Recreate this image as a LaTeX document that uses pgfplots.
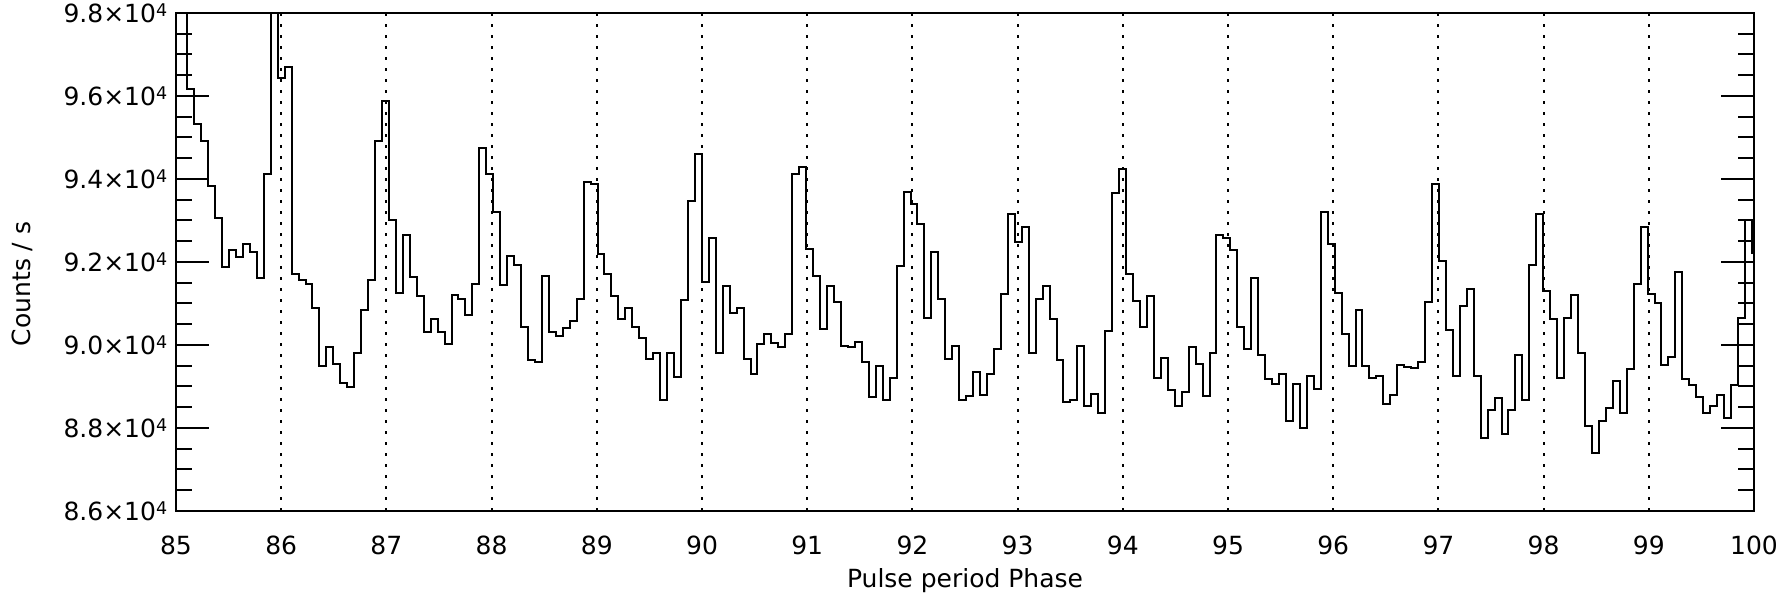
\documentclass[border=0pt]{standalone}
\usepackage{fontspec}
\setmainfont{DejaVu Sans}
\usepackage{pgfplots}
\pgfplotsset{compat=1.18}
\usetikzlibrary{calc}
\newcommand\sq{\raisebox{2.4pt}{\fontsize{7}{7}\selectfont 4}}
\begin{document}
\begin{tikzpicture}
\begin{axis}[
  scale only axis,
  width=631.2pt, height=199.2pt,
  xmin=85, xmax=100, ymin=86000, ymax=98000,
  axis line style={line width=0.8pt},
  xtick={85,86,...,100},
  xticklabels={85,86,87,88,89,90,91,92,93,94,95,96,97,98,99,100},
  xtick style={draw=none},
  xmajorgrids=true,
  major grid style={black, line width=0.8pt, dash pattern=on 1.1pt off 3.3pt},
  xticklabel style={yshift=-6.3pt},
  yticklabel style={inner ysep=0pt},
  ytick={86000,88000,90000,92000,94000,96000,98000},
  yticklabels={8.6×10\sq,8.8×10\sq,9.0×10\sq,9.2×10\sq,9.4×10\sq,9.6×10\sq,9.8×10\sq},
  minor y tick num=3,
  ytick pos=both,
  tick align=inside,
  ytick style={line width=0.8pt, black},
  major tick length=13.2pt,
  minor tick length=6.4pt,
  tick label style={font=\fontsize{10}{12}\selectfont},
  label style={font=\fontsize{10}{12}\selectfont},
  xlabel={Pulse period Phase},
  ylabel={Counts / s},
  every axis x label/.style={at={(axis description cs:0.5,0)}, anchor=center, yshift=-28pt},
  every axis y label/.style={at={(axis description cs:0,0.456)}, xshift=-61.6pt, anchor=center, rotate=90},
]
\addplot[const plot, black, line width=0.8pt] table[row sep=\\] {
x y\\
84.975 98500\\ 85.041 98300\\ 85.107 96170\\ 85.173 95330\\ 85.239 94920\\ 85.306 93840\\
85.372 93070\\ 85.438 91880\\ 85.504 92300\\ 85.570 92120\\ 85.636 92430\\ 85.702 92250\\
85.768 91620\\ 85.834 94110\\ 85.900 98000\\ 85.967 96430\\ 86.033 96700\\ 86.099 91720\\
86.165 91570\\ 86.231 91480\\ 86.297 90880\\ 86.363 89490\\ 86.429 89940\\ 86.495 89530\\
86.561 89080\\ 86.628 88990\\ 86.694 89810\\ 86.760 90850\\ 86.826 91570\\ 86.892 94920\\
86.958 95880\\ 87.024 93000\\ 87.090 91250\\ 87.156 92650\\ 87.222 91640\\ 87.289 91170\\
87.355 90310\\ 87.421 90630\\ 87.487 90310\\ 87.553 90030\\ 87.619 91200\\ 87.685 91110\\
87.751 90720\\ 87.817 91480\\ 87.883 94740\\ 87.950 94110\\ 88.016 93210\\ 88.082 91450\\
88.148 92150\\ 88.214 91930\\ 88.280 90430\\ 88.346 89630\\ 88.412 89580\\ 88.478 91670\\
88.544 90310\\ 88.611 90210\\ 88.677 90400\\ 88.743 90580\\ 88.809 91120\\ 88.875 93920\\
88.941 93890\\ 89.007 92200\\ 89.073 91700\\ 89.139 91170\\ 89.205 90630\\ 89.272 90880\\
89.338 90430\\ 89.404 90160\\ 89.470 89660\\ 89.536 89810\\ 89.602 88680\\ 89.668 89810\\
89.734 89240\\ 89.800 91080\\ 89.866 93470\\ 89.933 94610\\ 89.999 91510\\ 90.065 92570\\
90.131 89810\\ 90.197 91430\\ 90.263 90770\\ 90.329 90900\\ 90.395 89660\\ 90.461 89290\\
90.527 90030\\ 90.594 90270\\ 90.660 90050\\ 90.726 89940\\ 90.792 90270\\ 90.858 94110\\
90.924 94290\\ 90.990 92310\\ 91.056 91670\\ 91.122 90390\\ 91.188 91430\\ 91.255 91030\\
91.321 89980\\ 91.387 89940\\ 91.453 90080\\ 91.519 89580\\ 91.585 88750\\ 91.651 89490\\
91.717 88670\\ 91.783 89210\\ 91.849 91900\\ 91.916 93690\\ 91.982 93390\\ 92.048 92920\\
92.114 90660\\ 92.180 92250\\ 92.246 91110\\ 92.312 89660\\ 92.378 89980\\ 92.444 88670\\
92.510 88760\\ 92.577 89360\\ 92.643 88800\\ 92.709 89310\\ 92.775 89900\\ 92.841 91220\\
92.907 93160\\ 92.973 92470\\ 93.039 92840\\ 93.105 89810\\ 93.171 91110\\ 93.238 91430\\
93.304 90630\\ 93.370 89630\\ 93.436 88620\\ 93.502 88670\\ 93.568 89980\\ 93.634 88540\\
93.700 88810\\ 93.766 88360\\ 93.832 90340\\ 93.899 93660\\ 93.965 94240\\ 94.031 91700\\
94.097 91060\\ 94.163 90430\\ 94.229 91170\\ 94.295 89210\\ 94.361 89680\\ 94.427 88910\\
94.493 88540\\ 94.560 88860\\ 94.626 89950\\ 94.692 89530\\ 94.758 88760\\ 94.824 89810\\
94.890 92650\\ 94.956 92570\\ 95.022 92300\\ 95.088 90430\\ 95.154 89900\\ 95.221 91620\\
95.287 89760\\ 95.353 89180\\ 95.419 89070\\ 95.485 89290\\ 95.551 88170\\ 95.617 89070\\
95.683 87990\\ 95.749 89260\\ 95.815 88940\\ 95.882 93210\\ 95.948 92430\\ 96.014 91250\\
96.080 90260\\ 96.146 89490\\ 96.212 90850\\ 96.278 89490\\ 96.344 89210\\ 96.410 89260\\
96.476 88570\\ 96.543 88800\\ 96.609 89520\\ 96.675 89470\\ 96.741 89440\\ 96.807 89600\\
96.873 91030\\ 96.939 93890\\ 97.005 92020\\ 97.071 90350\\ 97.137 89260\\ 97.204 90950\\
97.270 91350\\ 97.336 89260\\ 97.402 87770\\ 97.468 88440\\ 97.534 88730\\ 97.600 87860\\
97.666 88440\\ 97.732 89760\\ 97.798 88670\\ 97.865 91930\\ 97.931 93150\\ 97.997 91300\\
98.063 90630\\ 98.129 89210\\ 98.195 90660\\ 98.261 91200\\ 98.327 89810\\ 98.393 88040\\
98.459 87400\\ 98.526 88170\\ 98.592 88490\\ 98.658 89130\\ 98.724 88360\\ 98.790 89410\\
98.856 91480\\ 98.922 92840\\ 98.988 91220\\ 99.054 91000\\ 99.120 89520\\ 99.187 89710\\
99.253 91750\\ 99.319 89180\\ 99.385 89040\\ 99.451 88750\\ 99.517 88360\\ 99.583 88520\\
99.649 88800\\ 99.715 88230\\ 99.781 89040\\ 99.848 90660\\ 99.914 93000\\ 99.980 92220\\
100.046 92220\\
};
\end{axis}
\pgfresetboundingbox
\path ($(current axis.south west)+(-70.4pt,-34.8pt)$) rectangle ($(current axis.north east)+(12pt,5.2pt)$);
\end{tikzpicture}
\end{document}
